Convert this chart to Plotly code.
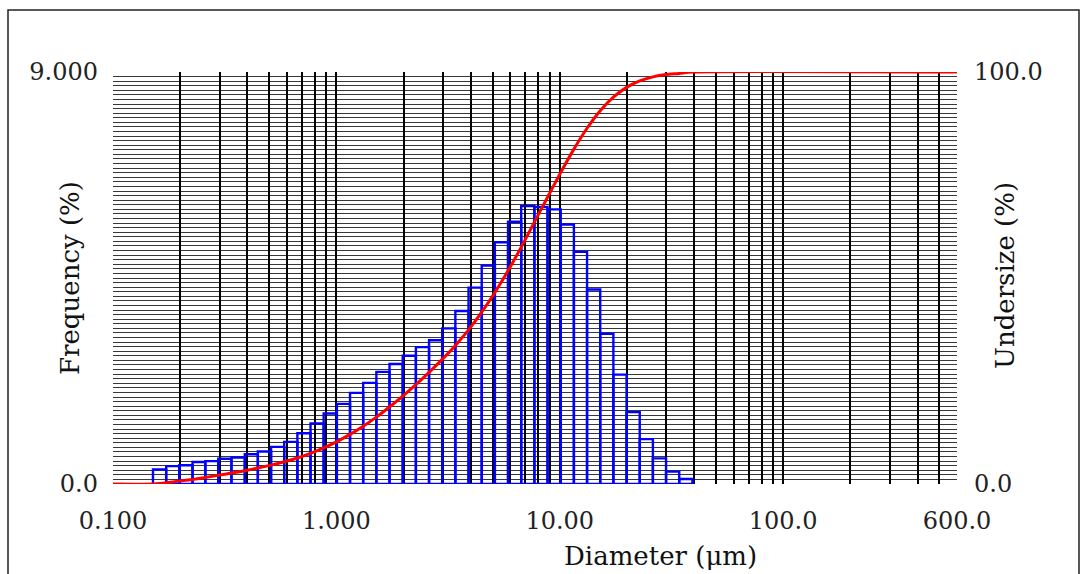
import plotly.graph_objects as go
import math

# Particle size bin edges (µm) – 41 bins
diameter_edges = [0.151, 0.173, 0.198, 0.227, 0.259, 0.296, 0.339, 0.389, 0.445, 0.510,
                  0.584, 0.669, 0.766, 0.877, 1.005, 1.151, 1.318, 1.510, 1.729, 1.981,
                  2.269, 2.599, 2.976, 3.409, 3.905, 4.472, 5.122, 5.867, 6.720, 7.697,
                  8.816, 10.097, 11.565, 13.246, 15.172, 17.377, 19.904, 22.797, 26.111,
                  29.907, 34.255, 39.234]

# Frequency (%) per bin
frequency = [0.32, 0.39, 0.41, 0.48, 0.50, 0.55, 0.58, 0.65, 0.71, 0.81,
             0.92, 1.11, 1.32, 1.54, 1.75, 1.99, 2.21, 2.45, 2.62, 2.80,
             2.99, 3.14, 3.40, 3.78, 4.29, 4.77, 5.28, 5.73, 6.07, 6.05,
             6.00, 5.67, 5.07, 4.25, 3.28, 2.39, 1.57, 0.98, 0.56, 0.27, 0.11]

# Cumulative undersize (%) at each bin edge
undersize = [0, 0.32, 0.71, 1.12, 1.60, 2.10, 2.65, 3.23, 3.88, 4.59, 5.40,
             6.32, 7.43, 8.75, 10.29, 12.04, 14.03, 16.24, 18.69, 21.31, 24.11,
             27.10, 30.24, 33.64, 37.42, 41.71, 46.48, 51.76, 57.49, 63.56, 69.61,
             75.61, 81.28, 86.35, 90.60, 93.88, 96.27, 97.84, 98.82, 99.38, 99.65, 100.0]

x_range = [0.1, 600]
x_tick_vals = [0.1, 1, 10, 100, 600]
x_tick_text = ["0.100", "1.000", "10.00", "100.0", "600.0"]

# grid positions for log axis (1..9 per decade)
grid_vals = [m * 10 ** k for k in range(-1, 3) for m in range(1, 10) if m * 10 ** k <= 600.0001]
grid_text = []
for g in grid_vals:
    lab = ""
    for v, t in zip(x_tick_vals, x_tick_text):
        if abs(g - v) / v < 1e-6:
            lab = t
    grid_text.append(lab)

# bar outlines
bx, by = [], []
for i, f in enumerate(frequency):
    a, b = diameter_edges[i], diameter_edges[i + 1]
    bx += [a, a, b, b, a, None]
    by += [0, f, f, 0, 0, None]

fig = go.Figure()
fig.add_trace(go.Scatter(x=bx, y=by, mode="lines",
                         line=dict(color="#0000ff", width=2.4),
                         hoverinfo="skip", showlegend=False))

cx = [x_range[0]] + diameter_edges + [x_range[1]]
cy = [0] + undersize + [100]
fig.add_trace(go.Scatter(x=cx, y=cy, mode="lines", yaxis="y2",
                         line=dict(color="#ff0000", width=3, shape="spline", smoothing=0.6),
                         cliponaxis=False, showlegend=False))

tick_font = dict(family="DejaVu Serif", size=24, color="#222222")
title_font = dict(family="DejaVu Serif", size=26, color="#111111")

L, R, T, B = 113, 957, 72, 484
W, H = 1083, 574

def px2x(px):
    return (px - L) / (R - L)

def px2y(py):
    return (B - py) / (B - T)

fig.update_layout(
    width=W, height=H,
    margin=dict(l=L, r=W - R, t=T, b=H - B),
    paper_bgcolor="white", plot_bgcolor="white",
    xaxis=dict(type="log", range=[math.log10(x_range[0]), math.log10(x_range[1])],
               tickmode="array", tickvals=grid_vals, ticktext=grid_text,
               showgrid=True, gridcolor="#000000", gridwidth=2,
               ticks="", ticklabelstandoff=20, tickfont=tick_font,
               zeroline=False, showline=False),
    yaxis=dict(range=[0, 9], tickmode="array", tickvals=[0, 9], ticktext=["0.0", "9.000"],
               showgrid=True, gridcolor="#2a2a2a", gridwidth=1.4,
               minor=dict(dtick=0.1, tick0=0, showgrid=True, gridcolor="#383838", gridwidth=1.4),
               ticks="", ticklabelstandoff=14, tickfont=tick_font,
               zeroline=False, showline=False),
    yaxis2=dict(range=[0, 100], overlaying="y", side="right",
                tickmode="array", tickvals=[0, 100], ticktext=["0.0", "100.0"],
                showgrid=False, ticks="", ticklabelstandoff=16, tickfont=tick_font,
                zeroline=False, showline=False),
    annotations=[
        dict(text="Frequency (%)", xref="paper", yref="paper", x=px2x(70), y=px2y(278),
             textangle=-90, showarrow=False, font=title_font, xanchor="center", yanchor="middle"),
        dict(text="Undersize (%)", xref="paper", yref="paper", x=px2x(1005), y=px2y(275),
             textangle=-90, showarrow=False, font=title_font, xanchor="center", yanchor="middle"),
        dict(text="Diameter (μm)", xref="paper", yref="paper", x=px2x(660), y=px2y(556),
             showarrow=False, font=title_font, xanchor="center", yanchor="middle"),
    ],
    shapes=[
        dict(type="rect", xref="paper", yref="paper", x0=px2x(8), x1=px2x(1079),
             y0=px2y(600), y1=px2y(10), line=dict(color="#222222", width=1.5),
             fillcolor="rgba(0,0,0,0)", layer="below"),
    ],
)

fig.write_html("out.html")
